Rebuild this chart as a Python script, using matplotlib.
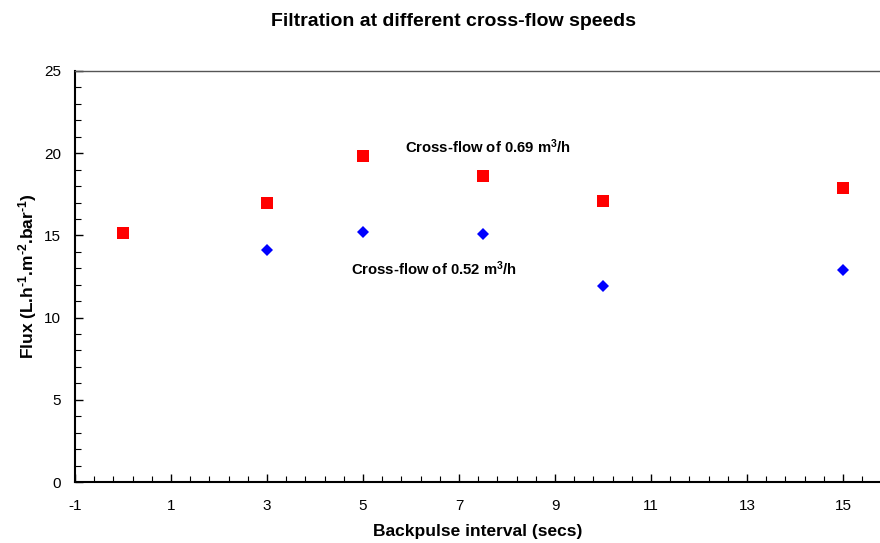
import matplotlib
matplotlib.use("Agg")
import matplotlib.pyplot as plt
from matplotlib.ticker import FixedLocator

plt.rcParams['font.family'] = ['Liberation Sans', 'DejaVu Sans']
plt.rcParams['mathtext.fontset'] = 'custom'
plt.rcParams['mathtext.rm'] = 'Liberation Sans:bold'
plt.rcParams['mathtext.bf'] = 'Liberation Sans:bold'
plt.rcParams['mathtext.default'] = 'bf'
plt.rcParams['axes.unicode_minus'] = False

x_high = [0, 3, 5, 7.5, 10, 15]
flux_high = [15.15, 17.0, 19.8, 18.6, 17.1, 17.9]
x_low = [3, 5, 7.5, 10, 15]
flux_low = [14.1, 15.2, 15.1, 11.9, 12.9]
x_ticks = [-1, 1, 3, 5, 7, 9, 11, 13, 15]
y_ticks = [0, 5, 10, 15, 20, 25]

fig = plt.figure(figsize=(8.8, 5.43), dpi=100)
ax = fig.add_axes([75/880, 1-482/543, 1-75/880, (482-71)/543])

ax.plot(x_high, flux_high, linestyle='none', marker='s', markersize=8, color='#ff0000', markeredgewidth=0)
ax.plot(x_low, flux_low, linestyle='none', marker='D', markersize=6.5, color='#0000ff', markeredgewidth=0)

ax.set_xlim(-1, 15.77)
ax.set_ylim(0, 25)
ax.xaxis.set_major_locator(FixedLocator(x_ticks))
ax.xaxis.set_minor_locator(FixedLocator([-1 + 0.4 * i for i in range(43)]))
ax.yaxis.set_major_locator(FixedLocator(y_ticks))
ax.yaxis.set_minor_locator(FixedLocator(list(range(26))))
ax.tick_params(which='both', direction='in', top=False, right=False)
ax.tick_params(which='major', length=6, width=1, labelsize=11)
ax.tick_params(axis='x', which='major', pad=12)
ax.tick_params(axis='y', which='major', pad=10)
ax.tick_params(which='minor', length=4, width=0.8)
ax.spines['right'].set_visible(False)
for s in ['left', 'bottom']:
    ax.spines[s].set_linewidth(1.5)
ax.spines['top'].set_linewidth(1.0)
ax.spines['top'].set_color('#555555')

ax.set_xlabel('Backpulse interval (secs)', fontsize=12.5, fontweight='bold', labelpad=8)
ax.set_ylabel(r'Flux (L.h$^{\text{-1}}$.m$^{\text{-2}}$.bar$^{\text{-1}}$)', fontsize=12.5, fontweight='bold', labelpad=4)
fig.text(453/880, 1-22/543, 'Filtration at different cross-flow speeds', ha='center', va='center', fontsize=14, fontweight='bold')

ax.text(5.875, 20.4, r'Cross-flow of 0.69 m$^{\text{3}}$/h', fontsize=10.7, fontweight='bold', va='center', ha='left')
ax.text(4.75, 13.0, r'Cross-flow of 0.52 m$^{\text{3}}$/h', fontsize=10.7, fontweight='bold', va='center', ha='left')

fig.savefig('out.png', dpi=100)
